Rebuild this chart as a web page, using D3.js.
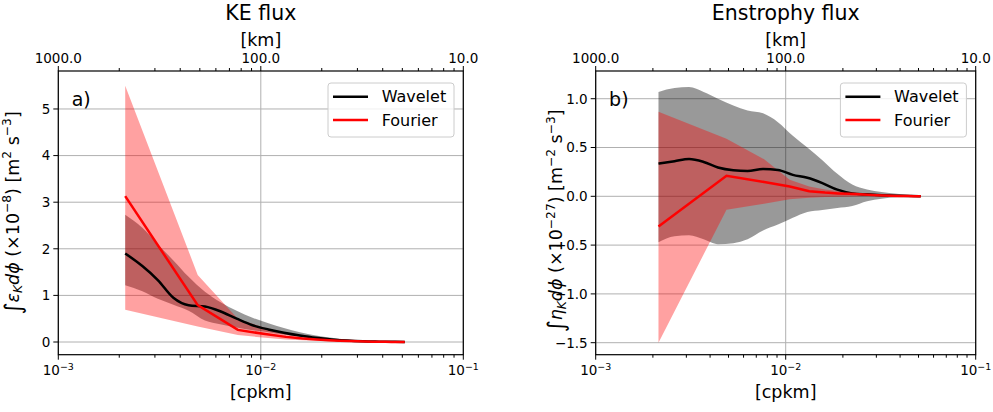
<!DOCTYPE html>
<html>
<head>
<meta charset="utf-8">
<script src="https://cdn.jsdelivr.net/npm/d3@7"></script>
<style>
  body { margin: 0; background: #fff; }
  text { font-family: "DejaVu Sans", sans-serif; fill: #000; }
</style>
</head>
<body>
<script>
const W = 993, H = 412;

// wavelet scales [cpkm]
const kWave = [0.00214, 0.0026, 0.0031, 0.0037, 0.0044, 0.0053, 0.0063, 0.0076, 0.0091, 0.0109,
               0.013, 0.0156, 0.0187, 0.0224, 0.0268, 0.032, 0.0384, 0.046, 0.0514];
// fourier wavenumbers [cpkm]
const kFour = [0.00214, 0.00488, 0.0077, 0.0105, 0.0133, 0.0161, 0.0189, 0.0217, 0.0245, 0.0273,
               0.0301, 0.0329, 0.0357, 0.0385, 0.0413, 0.0441, 0.0469, 0.0497, 0.0514];

// KE flux (x1e-8)
const keWave   = [1.90, 1.63, 1.33, 0.95, 0.79, 0.76, 0.66, 0.50, 0.36, 0.27, 0.20, 0.14, 0.09, 0.055, 0.03, 0.015, 0.008, 0.003, 0.0];
const keWaveHi = [2.73, 2.45, 2.10, 1.75, 1.40, 1.08, 0.86, 0.67, 0.52, 0.40, 0.30, 0.21, 0.14, 0.09, 0.05, 0.03, 0.015, 0.006, 0.0];
const keWaveLo = [1.22, 1.09, 0.93, 0.80, 0.67, 0.46, 0.38, 0.31, 0.25, 0.21, 0.16, 0.12, 0.08, 0.05, 0.03, 0.015, 0.008, 0.003, 0.0];
const keFour   = [3.13, 0.79, 0.26, 0.17, 0.11, 0.075, 0.055, 0.04, 0.028, 0.02, 0.014, 0.01, 0.007, 0.005, 0.003, 0.002, 0.001, 0.0005, 0.0];
const keFourHi = [5.50, 1.44, 0.50, 0.30, 0.19, 0.13, 0.09, 0.065, 0.045, 0.032, 0.022, 0.015, 0.01, 0.007, 0.005, 0.003, 0.002, 0.001, 0.0];
const keFourLo = [0.69, 0.33, 0.15, 0.09, 0.055, 0.035, 0.025, 0.018, 0.012, 0.008, 0.006, 0.004, 0.003, 0.002, 0.001, 0.001, 0.0005, 0.0, 0.0];

// Enstrophy flux (x1e-27)
const enWave   = [0.335, 0.36, 0.382, 0.352, 0.295, 0.267, 0.26, 0.28, 0.27, 0.22, 0.19, 0.135, 0.068, 0.03, 0.02, 0.012, 0.006, 0.002, 0.0];
const enWaveHi = [1.07, 1.11, 1.12, 1.07, 1.00, 0.93, 0.88, 0.85, 0.76, 0.62, 0.50, 0.37, 0.23, 0.12, 0.07, 0.045, 0.025, 0.01, 0.0];
const enWaveLo = [-0.47, -0.41, -0.40, -0.44, -0.49, -0.48, -0.44, -0.35, -0.29, -0.22, -0.16, -0.14, -0.12, -0.10, -0.05, -0.025, -0.01, -0.004, 0.0];
const enFour   = [-0.31, 0.21, 0.147, 0.10, 0.052, 0.038, 0.03, 0.025, 0.02, 0.015, 0.011, 0.008, 0.006, 0.004, 0.003, 0.002, 0.001, 0.0005, 0.0];
const enFourHi = [0.867, 0.59, 0.38, 0.17, 0.10, 0.07, 0.055, 0.045, 0.035, 0.027, 0.02, 0.015, 0.01, 0.007, 0.005, 0.003, 0.002, 0.001, 0.0];
const enFourLo = [-1.50, -0.137, -0.075, -0.03, -0.015, -0.008, -0.004, -0.002, 0.0, 0.0, 0.0, 0.0, 0.0, 0.0, 0.0, 0.0, 0.0, 0.0, 0.0];

const xMajor = [1e-3, 1e-2, 1e-1];
const xMinor = [2e-3, 3e-3, 4e-3, 5e-3, 6e-3, 7e-3, 8e-3, 9e-3, 2e-2, 3e-2, 4e-2, 5e-2, 6e-2, 7e-2, 8e-2, 9e-2];
const xLabelsExp = ["−3", "−2", "−1"];
const kmLabels = ["1000.0", "100.0", "10.0"];
const keYTicks = [0, 1, 2, 3, 4, 5];
const enYTicks = [-1.5, -1.0, -0.5, 0.0, 0.5, 1.0];

const svg = d3.select("body").append("svg")
    .attr("width", W).attr("height", H)
    .attr("viewBox", [0, 0, W, H]);

// rich text with sub/superscripts
function rich(sel, parts, size) {
  let shift = 0;
  parts.forEach(p => {
    const o = p[1] || {};
    const target = o.sup ? -0.42 * size : o.sub ? 0.22 * size : (o.drop || 0);
    sel.append("tspan")
        .attr("dy", target - shift)
        .attr("font-size", o.size || ((o.sup || o.sub) ? size * 0.7 : size))
        .attr("font-style", o.it ? "italic" : null)
        .text(p[0]);
    shift = target;
  });
}

function panel(o) {
  const x = d3.scaleLog().domain([1e-3, 1e-1]).range([o.left, o.right]);
  const y = d3.scaleLinear().domain(o.yDomain).range([o.bottom, o.top]);
  const g = svg.append("g");

  // grid
  g.selectAll(".gx").data(xMajor).join("line")
      .attr("x1", d => x(d)).attr("x2", d => x(d))
      .attr("y1", o.top).attr("y2", o.bottom)
      .attr("stroke", "#b0b0b0").attr("stroke-width", 1);
  g.selectAll(".gy").data(o.yTicks).join("line")
      .attr("x1", o.left).attr("x2", o.right)
      .attr("y1", d => y(d)).attr("y2", d => y(d))
      .attr("stroke", "#b0b0b0").attr("stroke-width", 1);

  const wave = kWave.map((k, i) => ({k, m: o.wm[i], lo: o.wlo[i], hi: o.whi[i]}));
  const four = kFour.map((k, i) => ({k, m: o.fm[i], lo: o.flo[i], hi: o.fhi[i]}));

  const areaW = d3.area().curve(d3.curveMonotoneX)
      .x(d => x(d.k)).y0(d => y(d.lo)).y1(d => y(d.hi));
  const areaF = d3.area()
      .x(d => x(d.k)).y0(d => y(d.lo)).y1(d => y(d.hi));
  const lineW = d3.line().curve(d3.curveMonotoneX).x(d => x(d.k)).y(d => y(d.m));
  const lineF = d3.line().x(d => x(d.k)).y(d => y(d.m));

  g.append("path").attr("d", areaW(wave)).attr("fill", "#000").attr("fill-opacity", 0.4);
  g.append("path").attr("d", areaF(four)).attr("fill", "#ff0000").attr("fill-opacity", 0.37);
  g.append("path").attr("d", lineW(wave)).attr("fill", "none")
      .attr("stroke", "#000").attr("stroke-width", 2.5);
  g.append("path").attr("d", lineF(four)).attr("fill", "none")
      .attr("stroke", "#ff0000").attr("stroke-width", 2.5);

  // frame
  g.append("rect").attr("x", o.left).attr("y", o.top)
      .attr("width", o.right - o.left).attr("height", o.bottom - o.top)
      .attr("fill", "none").attr("stroke", "#000").attr("stroke-width", 1.2);

  // x ticks bottom and top
  const tk = (data, len) => {
    g.selectAll(null).data(data).join("line")
        .attr("x1", d => x(d)).attr("x2", d => x(d))
        .attr("y1", o.bottom).attr("y2", o.bottom + len)
        .attr("stroke", "#000").attr("stroke-width", 1);
    g.selectAll(null).data(data).join("line")
        .attr("x1", d => x(d)).attr("x2", d => x(d))
        .attr("y1", o.top).attr("y2", o.top - len)
        .attr("stroke", "#000").attr("stroke-width", 1);
  };
  tk(xMajor, 5);
  tk(xMinor, 3);

  xMajor.forEach((d, i) => {
    const t = g.append("text").attr("x", x(d)).attr("y", o.bottom + 20.5)
        .attr("text-anchor", "middle");
    rich(t, [["10"], [xLabelsExp[i], {sup: true}]], 13.5);
    g.append("text").attr("x", x(d)).attr("y", o.top - 7.7)
        .attr("text-anchor", "middle").attr("font-size", 13.5).text(kmLabels[i]);
  });

  // y ticks
  g.selectAll(null).data(o.yTicks).join("line")
      .attr("x1", o.left - 5).attr("x2", o.left)
      .attr("y1", d => y(d)).attr("y2", d => y(d))
      .attr("stroke", "#000").attr("stroke-width", 1);
  g.selectAll(null).data(o.yTicks).join("text")
      .attr("x", o.left - 8).attr("y", d => y(d)).attr("dy", "0.36em")
      .attr("text-anchor", "end").attr("font-size", 13.5)
      .text(d => o.fmt(d).replace("-", "−"));

  const cx = (o.left + o.right) / 2;
  g.append("text").attr("x", cx).attr("y", 20).attr("text-anchor", "middle")
      .attr("font-size", 20.5).text(o.title);
  g.append("text").attr("x", cx).attr("y", 46).attr("text-anchor", "middle")
      .attr("font-size", 17.5).text("[km]");
  g.append("text").attr("x", cx).attr("y", 398).attr("text-anchor", "middle")
      .attr("font-size", 17.5).text("[cpkm]");
  g.append("text").attr("x", o.left + 13.4).attr("y", 106)
      .attr("font-size", 19).text(o.letter);

  // y label
  const yl = g.append("text")
      .attr("transform", `translate(${o.ylx},${(o.top + o.bottom) / 2 + o.yloff}) rotate(-90)`)
      .attr("text-anchor", "middle");
  rich(yl, o.ylabel, 17.5);

  // legend
  const lx = o.right - 135.3, ly = o.top + 12;
  const lg = g.append("g");
  lg.append("rect").attr("x", lx).attr("y", ly).attr("width", 126).attr("height", 54)
      .attr("rx", 3).attr("fill", "#fff").attr("fill-opacity", 0.8)
      .attr("stroke", "#cccccc").attr("stroke-width", 1);
  [["Wavelet", "#000"], ["Fourier", "#ff0000"]].forEach((s, i) => {
    const yy = ly + 13.7 + i * 23.3;
    lg.append("line").attr("x1", lx + 5).attr("x2", lx + 40)
        .attr("y1", yy).attr("y2", yy)
        .attr("stroke", s[1]).attr("stroke-width", 2.5);
    lg.append("text").attr("x", lx + 53.7).attr("y", yy + 5.6)
        .attr("font-size", 16).text(s[0]);
  });
}

panel({
  left: 58.3, right: 463.3, top: 71, bottom: 354.7,
  yDomain: [-0.2725, 5.815], yTicks: keYTicks, fmt: d3.format("d"),
  wm: keWave, wlo: keWaveLo, whi: keWaveHi,
  fm: keFour, flo: keFourLo, fhi: keFourHi,
  title: "KE flux", letter: "a)", ylx: 18.5, yloff: 0,
  ylabel: [["∫", {size: 23, drop: 2}], ["ε", {it: true}], ["K", {it: true, sub: true}], ["dϕ", {it: true}],
           [" (×10"], ["−8", {sup: true}], [") [m"], ["2", {sup: true}], [" s"], ["−3", {sup: true}], ["]"]]
});

panel({
  left: 595.7, right: 975.7, top: 71, bottom: 354.7,
  yDomain: [-1.623, 1.284], yTicks: enYTicks, fmt: d3.format(".1f"),
  wm: enWave, wlo: enWaveLo, whi: enWaveHi,
  fm: enFour, flo: enFourLo, fhi: enFourHi,
  title: "Enstrophy flux", letter: "b)", ylx: 562, yloff: 8,
  ylabel: [["∫", {size: 23, drop: 2}], ["η", {it: true}], ["K", {it: true, sub: true}], ["dϕ", {it: true}],
           [" (×10"], ["−27", {sup: true}], [") [m"], ["−2", {sup: true}], [" s"], ["−3", {sup: true}], ["]"]]
});
</script>
</body>
</html>
